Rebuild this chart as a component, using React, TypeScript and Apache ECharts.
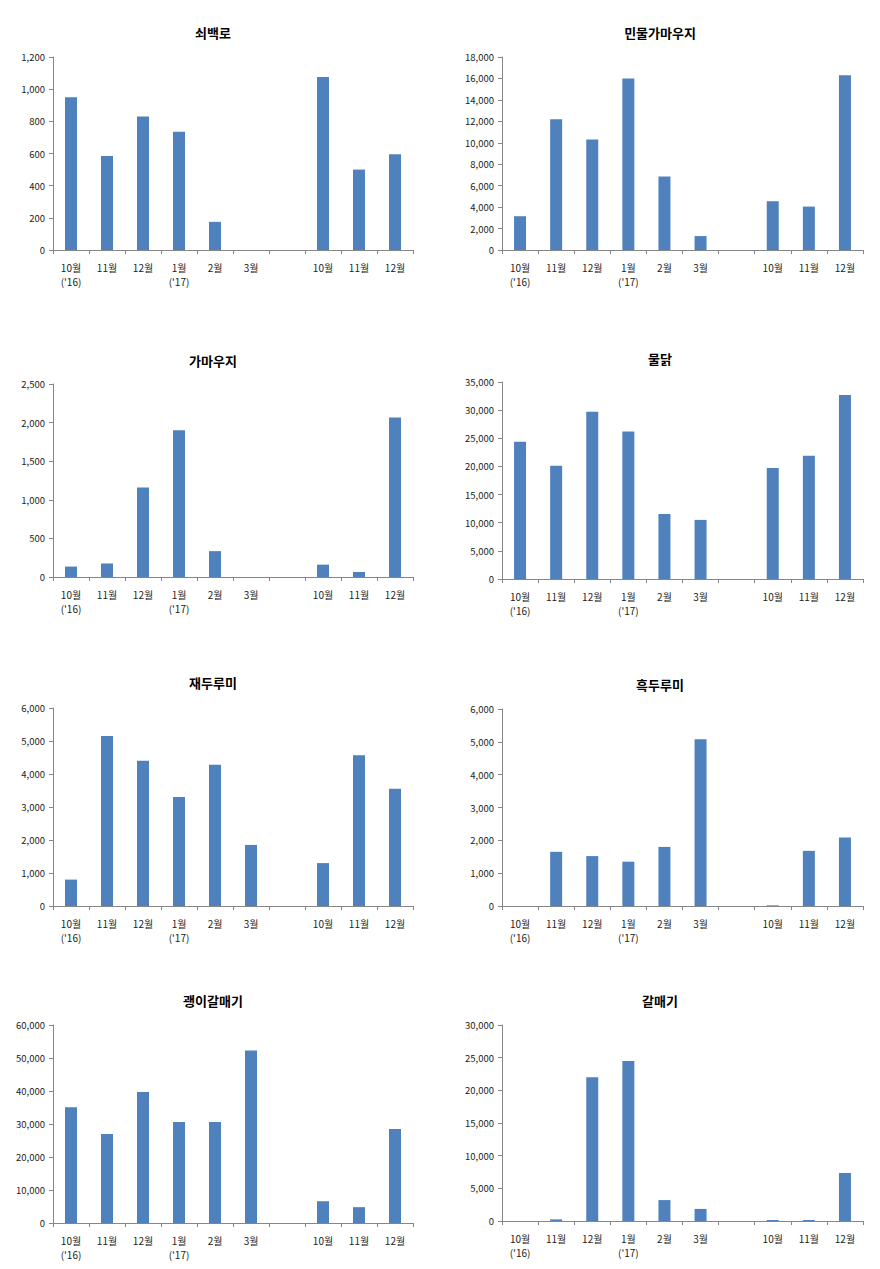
import React, { useEffect, useRef } from "react";
import * as echarts from "echarts";

const categories = ["10월\n('16)", "11월", "12월", "1월\n('17)", "2월", "3월", "", "10월", "11월", "12월"];

const titles = ["쇠백로", "민물가마우지", "가마우지", "물닭", "재두루미", "흑두루미", "괭이갈매기", "갈매기"];

const s1 = [950, 585, 830, 735, 175, 0, null, 1075, 500, 595];
const s2 = [3150, 12200, 10300, 16000, 6850, 1300, null, 4550, 4050, 16300];
const s3 = [135, 175, 1160, 1900, 335, 0, null, 160, 65, 2065];
const s4 = [24400, 20100, 29700, 26200, 11550, 10500, null, 19700, 21900, 32700];
const s5 = [800, 5150, 4400, 3300, 4280, 1850, null, 1300, 4570, 3550];
const s6 = [0, 1650, 1520, 1350, 1800, 5080, null, 20, 1680, 2090];
const s7 = [35100, 27000, 39700, 30600, 30600, 52300, null, 6600, 4800, 28500];
const s8 = [0, 250, 22000, 24500, 3200, 1850, null, 150, 150, 7350];

const seriesData = [s1, s2, s3, s4, s5, s6, s7, s8];
const yMax = [1200, 18000, 2500, 35000, 6000, 6000, 60000, 30000];
const yInterval = [200, 2000, 500, 5000, 1000, 1000, 10000, 5000];

// layout
const grids = [
  { left: 53, top: 57, width: 360, height: 193 },
  { left: 502, top: 57, width: 361, height: 193 },
  { left: 53, top: 384, width: 360, height: 193 },
  { left: 502, top: 382, width: 361, height: 197 },
  { left: 53, top: 708, width: 360, height: 198 },
  { left: 502, top: 709, width: 361, height: 197 },
  { left: 53, top: 1025, width: 360, height: 198 },
  { left: 502, top: 1025, width: 361, height: 196 },
];
const titlePos = [
  [213, 35], [660, 35], [213, 363], [660, 361],
  [213, 685], [660, 687], [213, 1003], [660, 1003],
];

const FONT = "'Noto Sans CJK KR', 'Noto Sans', sans-serif";
const AXIS_COLOR = "#868686";
const BAR_COLOR = "#4F81BD";

export default function App() {
  const ref = useRef<HTMLDivElement>(null);
  useEffect(() => {
    document.body.style.margin = "0";
    if (!ref.current) return;
    const chart = echarts.init(ref.current, null, { renderer: "svg" });
    const option: any = {
      animation: false,
      backgroundColor: "#ffffff",
      textStyle: { fontFamily: FONT },
      title: titles.map((t, i) => ({
        text: t,
        left: titlePos[i][0],
        top: titlePos[i][1] - 9,
        textAlign: "center",
        padding: 0,
        textStyle: { fontFamily: FONT, fontSize: 13, fontWeight: "bold", color: "#000" },
      })),
      grid: grids.map((g) => ({ ...g, containLabel: false })),
      xAxis: grids.map((_, i) => ({
        type: "category",
        gridIndex: i,
        data: categories,
        boundaryGap: true,
        axisLine: { show: true, lineStyle: { color: AXIS_COLOR, width: 1 } },
        axisTick: { show: true, length: 4, lineStyle: { color: AXIS_COLOR } },
        axisLabel: {
          interval: 0,
          margin: 10,
          fontFamily: FONT,
          fontSize: 10,
          lineHeight: 14,
          color: "#222",
        },
        splitLine: { show: false },
      })),
      yAxis: grids.map((_, i) => ({
        type: "value",
        gridIndex: i,
        min: 0,
        max: yMax[i],
        interval: yInterval[i],
        axisLine: { show: true, lineStyle: { color: AXIS_COLOR, width: 1 } },
        axisTick: { show: true, length: 4, lineStyle: { color: AXIS_COLOR } },
        axisLabel: {
          margin: 8,
          fontFamily: FONT,
          fontSize: 9.5,
          color: "#222",
          formatter: (v: number) => v.toLocaleString("en-US"),
        },
        splitLine: { show: false },
      })),
      series: seriesData.map((d, i) => ({
        type: "bar",
        xAxisIndex: i,
        yAxisIndex: i,
        data: d,
        barWidth: 12,
        itemStyle: { color: BAR_COLOR },
      })),
    };
    chart.setOption(option);
    return () => chart.dispose();
  }, []);
  return <div ref={ref} style={{ width: 880, height: 1269 }} />;
}
